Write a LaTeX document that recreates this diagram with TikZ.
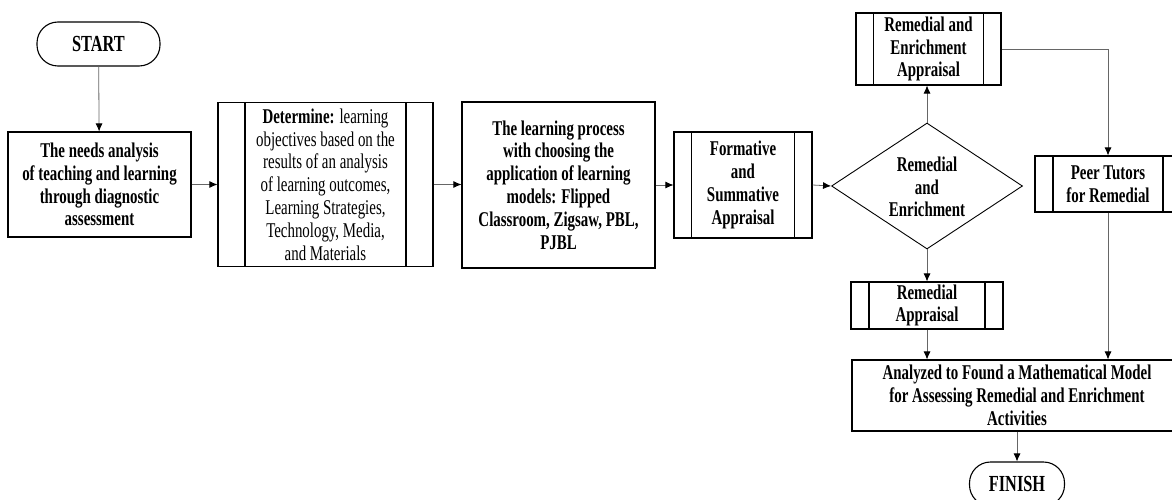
\documentclass[tikz,border=0pt]{standalone}
\usepackage{fontspec}
\setmainfont{Liberation Serif}[FakeStretch=0.71]
\usetikzlibrary{arrows.meta,shapes.geometric,calc}
\tikzset{
  base/.style={draw, line width=1.1pt, inner sep=0pt, align=center,
    font=\fontsize{21}{22.8}\selectfont\bfseries},
  termbox/.style={base, rounded corners=21pt,
    font=\fontsize{23}{24}\selectfont\bfseries},
  subr/.style={base, path picture={
    \draw[line width=1.1pt] ([xshift=#1]path picture bounding box.north west) -- ([xshift=#1]path picture bounding box.south west);
    \draw[line width=1.1pt] ([xshift=-#1]path picture bounding box.north east) -- ([xshift=-#1]path picture bounding box.south east);}},
  conn/.style={draw=black!60, line width=0.8pt, -{Latex[length=8pt,width=7pt,color=black]}}
}
\begin{document}
\begin{tikzpicture}[x=1pt,y=-1pt]
\path[use as bounding box, fill=white] (0,0) rectangle (1172,500);

\node[termbox, minimum width=123pt, minimum height=44pt] (start) at (98.5,44) {START};
\node[base, minimum width=183pt, minimum height=105pt] (needs) at (99.5,184.5)
  {The needs analysis\\of teaching and learning\\through diagnostic\\assessment};
\node[subr=27pt, minimum width=215pt, minimum height=164pt, font=\fontsize{21}{22.8}\selectfont] (det) at (325.5,184.5)
  {\textbf{Determine:} learning\\objectives based on the\\results of an analysis\\of learning outcomes,\\Learning Strategies,\\Technology, Media,\\and Materials};
\node[base, minimum width=193pt, minimum height=166pt] (learn) at (558.5,185)
  {The learning process\\with choosing the\\application of learning\\models: Flipped\\Classroom, Zigsaw, PBL,\\PJBL};
\node[subr=17.5pt, minimum width=138pt, minimum height=106pt] (form) at (743,185)
  {Formative\\and\\Summative\\Appraisal};
\node[base, diamond, line width=0.9pt, minimum width=191pt, minimum height=126pt] (dec) at (927,186) {};
\node[align=center, inner sep=0pt, font=\fontsize{21}{22.8}\selectfont\bfseries] (dect) at (927,187)
  {Remedial\\and\\Enrichment};
\node[subr=17.5pt, minimum width=145pt, minimum height=72pt] (rea) at (928.5,49)
  {Remedial and\\Enrichment\\Appraisal};
\node[subr=18pt, minimum width=146pt, minimum height=56pt] (peer) at (1108,184)
  {Peer Tutors\\for Remedial};
\node[subr=18pt, minimum width=152pt, minimum height=47pt] (ra) at (927,305.5)
  {Remedial\\Appraisal};
\node[base, minimum width=330pt, minimum height=71pt] (an) at (1017,395.5)
  {Analyzed to Found a Mathematical Model\\for Assessing Remedial and Enrichment\\Activities};
\node[termbox, minimum width=95pt, minimum height=44pt] (fin) at (1017,484) {FINISH};

\draw[conn] (start) -- (needs);
\draw[conn] (needs.east) -- (det.west);
\draw[conn] (det.east) -- (det.east -| learn.west);
\draw[conn] (learn.east |- form.east) -- (form.west);
\draw[conn] (form.east) -- (dec.west);
\draw[conn] (dec.north) -- (rea.south -| dec.north);
\draw[conn] (rea.east) -| (peer.north);
\draw[conn] (dec.south) -- (ra.north -| dec.south);
\draw[conn] (ra.south) -- (ra.south |- an.north);
\draw[conn] (peer.south) -- (peer.south |- an.north);
\draw[conn] (an.south) -- (fin.north);
\end{tikzpicture}
\end{document}
